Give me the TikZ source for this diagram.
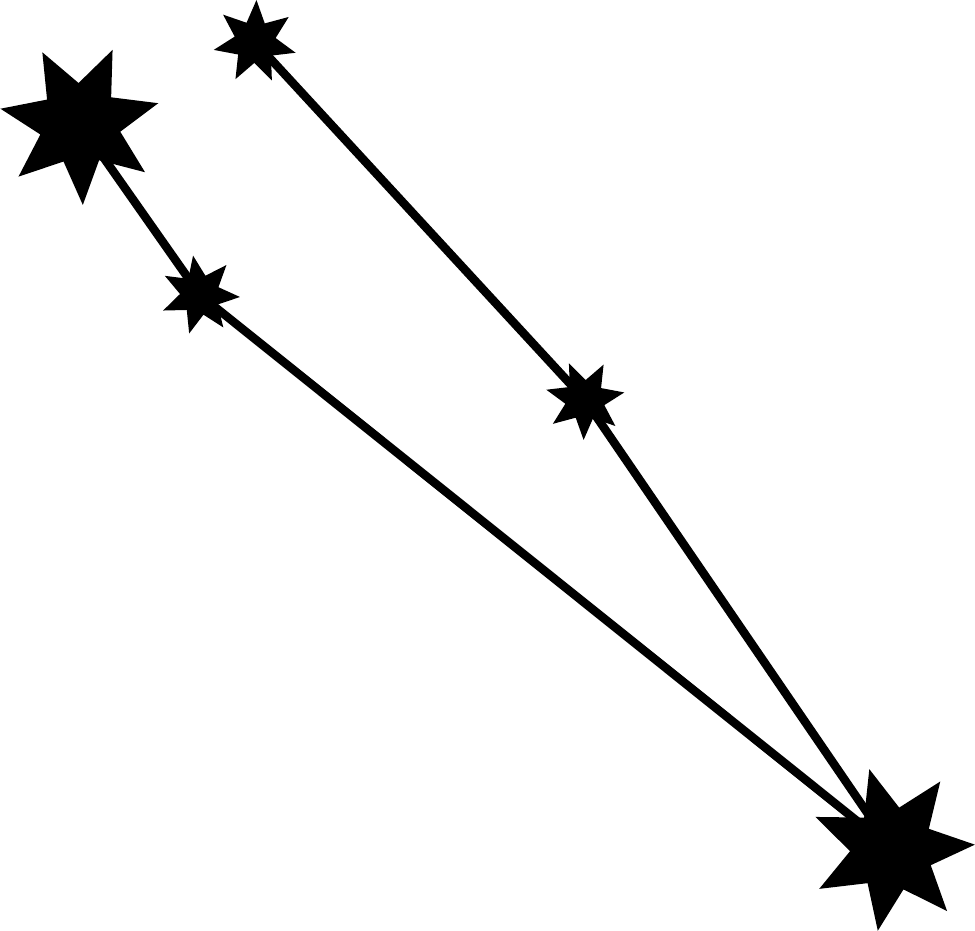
\documentclass[tikz,border=0pt]{standalone}
\begin{document}
\begin{tikzpicture}[x=1pt,y=1pt,
  link/.style={line width=8.5pt,black},
  starfill/.style={fill=black}]
\useasboundingbox (0,0) rectangle (975,931);
% star centres
\coordinate (A) at (80,807);
\coordinate (B) at (255,889);
\coordinate (C) at (200,636);
\coordinate (D) at (585,531);
\coordinate (E) at (892,82);
% connectors
\draw[link] (A) -- (C);
\draw[link] (C) -- (E);
\draw[link] (B) -- (D);
\draw[link] (D) -- (E);
% stars: centre, outer R, inner r, rotation
\foreach \c/\R/\r/\rot in {A/81/41/-88, B/42/21/88, C/40/20/100, D/40/20/-92, E/83/42/3}{
  \fill[starfill,shift={(\c)}] (\rot:\R)
    \foreach \k in {1,...,13}{ -- ({\rot+\k*180/7}:{mod(\k,2)==1 ? \r : \R}) } -- cycle;
}
\end{tikzpicture}
\end{document}
